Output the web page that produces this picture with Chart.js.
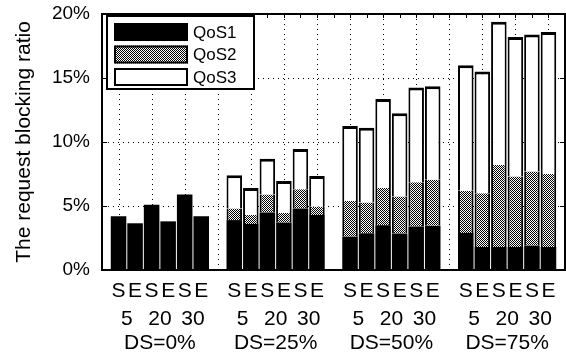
<!DOCTYPE html>
<html><head><meta charset="utf-8">
<script src="https://cdn.jsdelivr.net/npm/chart.js@4/dist/chart.umd.min.js"></script>
<style>html,body{margin:0;padding:0;background:#fff}#wrap{width:566px;height:356px}</style>
</head><body><div id="wrap"><canvas id="c" width="566" height="356"></canvas></div>
<script>
// ---- data ----
const groups = ['DS=0%', 'DS=25%', 'DS=50%', 'DS=75%'];
const thresholds = ['5', '20', '30'];
const methods = ['S', 'E'];
const seriesNames = ['QoS1', 'QoS2', 'QoS3'];
const yTicks = [0, 5, 10, 15, 20];
const qos1 = [4.2, 3.65, 5.1, 3.8, 5.9, 4.2,
              3.9, 3.6, 4.5, 3.7, 4.8, 4.3,
              2.6, 2.87, 3.5, 2.85, 3.4, 3.45,
              2.9, 1.8, 1.8, 1.8, 1.9, 1.8];
const qos2 = [0, 0, 0, 0, 0, 0,
              0.9, 0.7, 1.4, 0.75, 1.5, 0.65,
              2.8, 2.4, 2.9, 2.9, 3.45, 3.6,
              3.3, 4.2, 6.4, 5.5, 5.8, 5.7];
const qos3 = [0, 0, 0, 0, 0, 0,
              2.6, 2.1, 2.8, 2.5, 3.15, 2.4,
              5.85, 5.85, 6.95, 6.5, 7.4, 7.3,
              9.8, 9.5, 11.2, 10.9, 10.7, 11.1];

// ---- layout helpers ----
const perGroup = methods.length * thresholds.length;
const stride = perGroup + 1;
const slot = i => Math.floor(i / perGroup) * stride + (i % perGroup);
const barSlots = qos1.map((_, i) => slot(i));
const pairSlots = [], pairLabels = [];
groups.forEach((g, gi) => thresholds.forEach((t, ti) => {
  pairSlots.push(gi * stride + ti * methods.length + (methods.length - 1) / 2);
  pairLabels.push(t);
}));
const groupSlots = groups.map((g, gi) => gi * stride + (perGroup - 1) / 2);
const xMin = -1, xMax = groups.length * stride - 1;

function makePattern() {
  const c = document.createElement('canvas');
  c.width = 2; c.height = 2;
  const x = c.getContext('2d');
  x.fillStyle = '#fff'; x.fillRect(0, 0, 2, 2);
  x.fillStyle = '#000'; x.fillRect(0, 0, 1, 1); x.fillRect(1, 1, 1, 1);
  return x.createPattern(c, 'repeat');
}
const grayPat = makePattern();
const FONT = "'Liberation Sans', Arial, sans-serif";

const fills = ['#000', grayPat, '#fff'];
const series = [qos1, qos2, qos3];
const datasets = series.map((arr, k) => ({
  label: seriesNames[k],
  data: arr.map((v, i) => ({ x: barSlots[i], y: v })),
  backgroundColor: fills[k],
  borderColor: '#000',
  borderWidth: k === 0 ? 0 : (k === 1 ? { left: 2, right: 2, top: 0, bottom: 0 } : { left: 2, right: 2, top: 3, bottom: 0 }),
  borderSkipped: 'start',
  barPercentage: 0.94,
  categoryPercentage: 1.0
}));

const decor = {
  id: 'decor',
  beforeDatasetsDraw(chart) {
    const { ctx, chartArea: a, scales: { x } } = chart;
    ctx.save();
    ctx.strokeStyle = '#000'; ctx.lineWidth = 1; ctx.setLineDash([1, 4]);
    for (let v = 0; v <= xMax - 1; v += 2) {
      const px = Math.round(x.getPixelForValue(v)) + 0.5;
      ctx.beginPath(); ctx.moveTo(px, a.top); ctx.lineTo(px, a.bottom); ctx.stroke();
    }
    ctx.restore();
  },
  afterDraw(chart) {
    const { ctx, chartArea: a, scales: { x, y } } = chart;
    ctx.save();
    ctx.strokeStyle = '#000'; ctx.lineWidth = 2; ctx.setLineDash([]);
    ctx.beginPath(); ctx.moveTo(a.left, a.top); ctx.lineTo(a.right, a.top); ctx.lineTo(a.right, a.bottom); ctx.stroke();
    ctx.lineWidth = 1;
    for (let v = xMin + 1; v < xMax; v++) {
      const px = Math.round(x.getPixelForValue(v)) + 0.5;
      ctx.beginPath(); ctx.moveTo(px, a.top); ctx.lineTo(px, a.top + 4); ctx.stroke();
    }
    yTicks.slice(1, -1).forEach(t => {
      const py = Math.round(y.getPixelForValue(t)) + 0.5;
      ctx.beginPath(); ctx.moveTo(a.left, py); ctx.lineTo(a.left + 5, py); ctx.stroke();
      ctx.beginPath(); ctx.moveTo(a.right, py); ctx.lineTo(a.right - 5, py); ctx.stroke();
    });
    // legend
    const L = a.left + 5, T = a.top + 2, W = 147, H = 73;
    ctx.fillStyle = '#fff'; ctx.fillRect(L, T, W, H);
    ctx.lineWidth = 2; ctx.strokeRect(L, T, W, H);
    chart.data.datasets.forEach((ds, k) => {
      const sy = T + 7 + k * 22.5;
      ctx.fillStyle = ds.backgroundColor;
      ctx.fillRect(L + 7, sy, 74, 18);
      if (k > 0) { ctx.lineWidth = 2; ctx.strokeStyle = '#000'; ctx.strokeRect(L + 8, sy + 1, 72, 16); }
      ctx.fillStyle = '#000';
      ctx.font = 'normal 400 17px ' + FONT;
      ctx.textBaseline = 'middle'; ctx.textAlign = 'left';
      ctx.fillText(ds.label, L + 86, sy + 10);
    });
    ctx.restore();
  }
};

function fixedTicks(vals) { return s => { s.ticks = vals.map(v => ({ value: v })); }; }
const hAxisBase = { type: 'linear', min: xMin, max: xMax, offset: false, position: 'bottom' };
const XF = { family: FONT, size: 21, lineHeight: 1.2 };

new Chart(document.getElementById('c'), {
  type: 'bar',
  data: { datasets },
  options: {
    responsive: false, animation: false, devicePixelRatio: 1,
    layout: { padding: { top: 14, right: 1, bottom: 0, left: 0 } },
    plugins: { legend: { display: false }, tooltip: { enabled: false } },
    scales: {
      x: Object.assign({}, hAxisBase, {
        stacked: true, weight: 0,
        afterBuildTicks: fixedTicks(barSlots),
        afterFit: s => { s.height = 31; s.paddingLeft = 0; s.paddingRight = 0; },
        grid: { display: false, drawTicks: false },
        border: { display: true, color: '#000', width: 2 },
        ticks: { autoSkip: false, maxRotation: 0, minRotation: 0, padding: 8.9, color: '#000',
                 font: XF, callback: (v, i) => methods[i % methods.length] }
      }),
      x2: Object.assign({}, hAxisBase, {
        weight: 1,
        afterBuildTicks: fixedTicks(pairSlots),
        afterFit: s => { s.height = 25; s.paddingLeft = 0; s.paddingRight = 0; },
        grid: { display: false, drawTicks: false }, border: { display: false },
        ticks: { autoSkip: false, maxRotation: 0, minRotation: 0, padding: 5.4, color: '#000',
                 font: XF, callback: (v, i) => pairLabels[i] }
      }),
      x3: Object.assign({}, hAxisBase, {
        weight: 2,
        afterBuildTicks: fixedTicks(groupSlots),
        afterFit: s => { s.height = 30; s.paddingLeft = 0; s.paddingRight = 0; },
        grid: { display: false, drawTicks: false }, border: { display: false },
        ticks: { autoSkip: false, maxRotation: 0, minRotation: 0, padding: 4.9, color: '#000',
                 font: XF, callback: (v, i) => groups[i] }
      }),
      y: {
        stacked: true, min: 0, max: 20,
        afterBuildTicks: fixedTicks(yTicks),
        afterFit: s => { s.width = 102; s.paddingTop = 0; s.paddingBottom = 0; },
        grid: { display: true, color: '#000', lineWidth: 1, drawTicks: false },
        border: { display: true, color: '#000', width: 2, dash: [1, 4] },
        ticks: { padding: 12, color: '#000', font: { family: FONT, size: 19 }, callback: v => v + '%' },
        title: { display: true, text: 'The request blocking ratio', color: '#000',
                 font: { family: FONT, size: 21 }, padding: { top: 12, bottom: 0 } }
      }
    }
  },
  plugins: [decor]
});
</script></body></html>
